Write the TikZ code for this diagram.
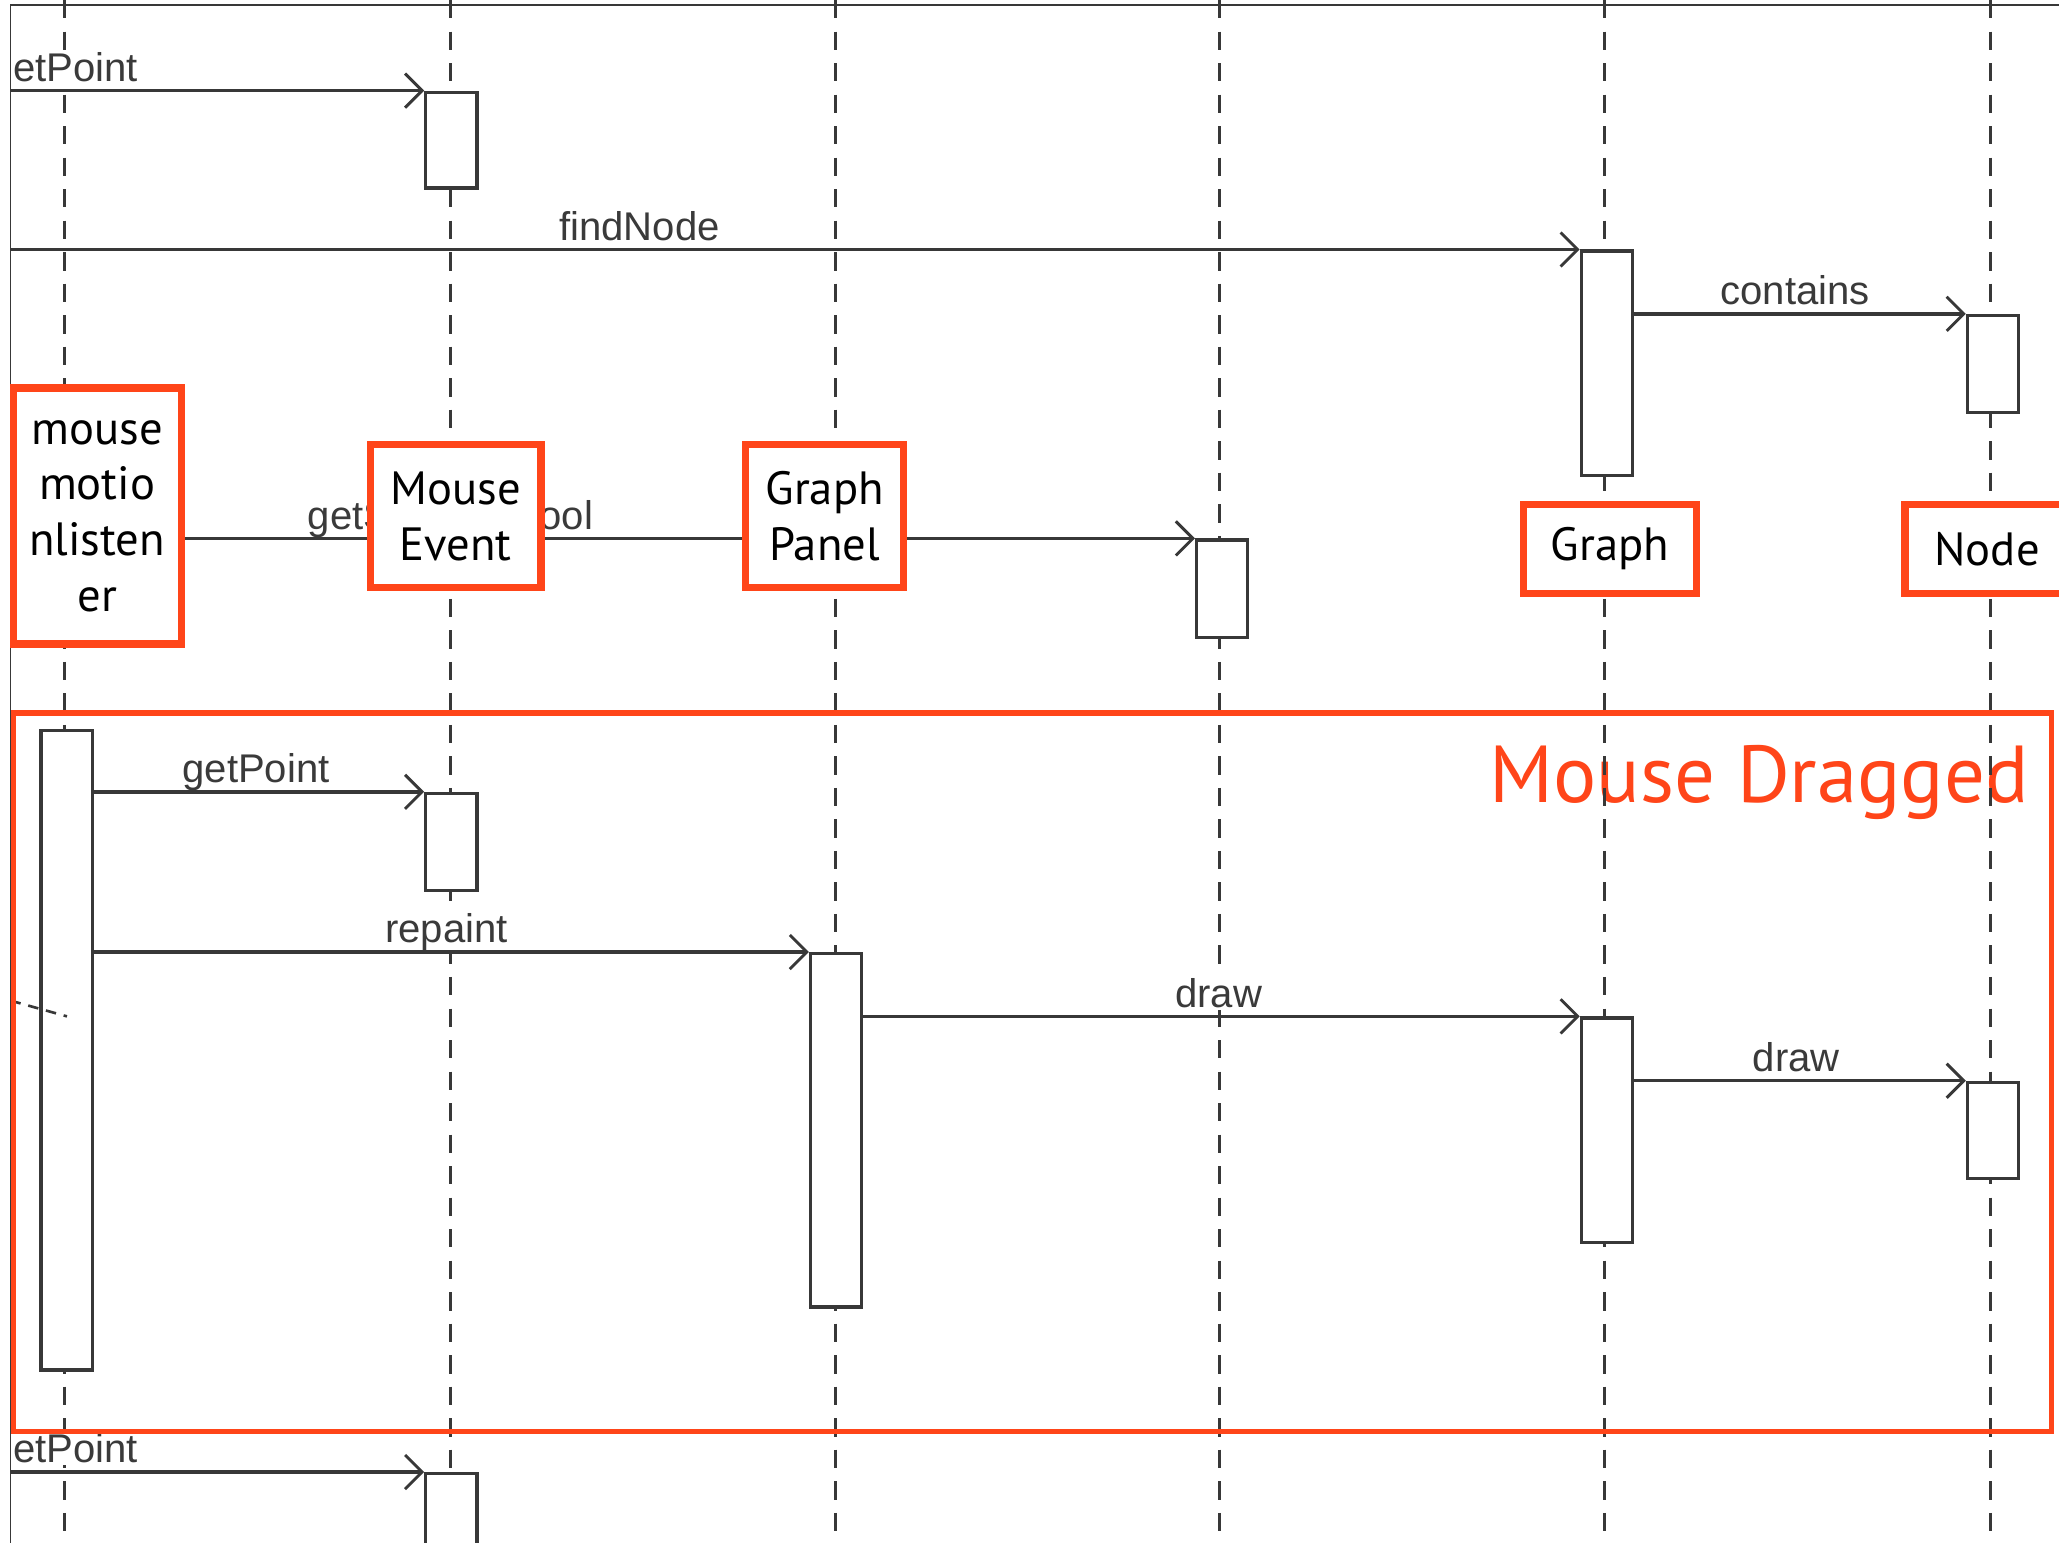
\documentclass[tikz,border=0pt]{standalone}
\usepackage{fontspec}
\setmainfont{Liberation Sans}
\newfontfamily\gill{PT Sans}
\usetikzlibrary{arrows.meta}
\definecolor{uml}{HTML}{383838}
\definecolor{lblc}{HTML}{3A3A3A}
\definecolor{hred}{HTML}{FF4519}
\begin{document}
\begin{tikzpicture}[x=1pt,y=-1pt,
  life/.style={draw=uml, line width=2.4pt, dash pattern=on 14pt off 10pt},
  act/.style={draw=uml, fill=white, line width=2.5pt, minimum width=39pt, inner sep=0pt, anchor=north west},
  msg/.style={draw=uml, line width=2.6pt, -{Straight Barb[length=13pt,width=26pt,line width=2.2pt]}},
  lbl/.style={text=lblc, fill=white, font=\fontsize{30.5}{34}\selectfont, inner sep=2pt, anchor=base},
  cls/.style={draw=hred, line width=5.5pt, fill=white, font=\gill\fontsize{35.5}{42.5}\selectfont, align=center, inner sep=0pt},
  frameline/.style={draw=uml, line width=1.5pt},
]
\useasboundingbox (0,0) rectangle (1568,1175);
\clip (0,0) rectangle (1568,1175);
\fill[white] (0,0) rectangle (1568,1175);

% title of the red frame
\node[text=hred, font=\gill\fontsize{61.5}{70}\selectfont, anchor=base east, inner sep=0pt] (title) at (1545,611) {Mouse Dragged};

% lifelines
\foreach \x/\n in {49/L1,343/L2,636/L3,929/L4,1222/L5,1516/L6}{
  \coordinate (\n top) at (\x,0);
  \coordinate (\n bot) at (\x,1175);
  \draw[life] (\n top) -- (\n bot);
}

% screenshot border
\coordinate (bTL) at (8,4);
\coordinate (bTR) at (1568,4);
\coordinate (bBL) at (8,1175);
\draw[frameline] (bTR) -- (bTL) -- (bBL);

% free ends of messages
\coordinate (s1) at (8,69);
\coordinate (s2) at (8,190);
\coordinate (s3) at (8,1121);
\coordinate (d1) at (8,762);
\coordinate (d2) at (51,774);

% labels (drawn before the activations and boxes)
\node[lbl, anchor=base west, inner sep=1pt] (tEt1) at (9,62) {etPoint};
\node[lbl] (tFind) at (487,183) {findNode};
\node[lbl] (tCont) at (1367,232) {contains};
\node[lbl] (tTool) at (343,403) {getSelectedTool};
\node[lbl] (tGet) at (195,596) {getPoint};
\node[lbl] (tRep) at (340,718) {repaint};
\node[lbl] (tDr1) at (928,767) {draw};
\node[lbl] (tDr2) at (1368,816) {draw};
\node[lbl, anchor=base west, inner sep=1pt] (tEt2) at (9,1114) {etPoint};

% activations
\node[act, minimum height=73pt] (aTop) at (323,69) {};
\node[act, minimum height=171pt] (aFind) at (1203,190) {};
\node[act, minimum height=74pt] (aCont) at (1497,239) {};
\node[act, minimum height=74pt] (aTool) at (910,410) {};
\node[act, minimum height=487pt] (aL1) at (30,555) {};
\node[act, minimum height=74pt] (aGP) at (323,603) {};
\node[act, minimum height=269pt] (aRep) at (616,725) {};
\node[act, minimum height=171pt] (aDr1) at (1203,774) {};
\node[act, minimum height=73pt] (aDr2) at (1497,823) {};
\node[act, minimum height=90pt] (aBot) at (323,1121) {};

% class box that starts the tool message
\node[cls, minimum width=128pt, minimum height=195pt] (mml) at (74,393) {mouse\\motio\\nlisten\\er};

% messages
\draw[msg] (s1) -- (aTop.north west);
\draw[msg] (s2) -- (aFind.north west);
\draw[msg] (aFind.east |- aCont.north) -- (aCont.north west);
\draw[msg] (mml.east |- aTool.north) -- (aTool.north west);
\draw[msg] (aL1.east |- aGP.north) -- (aGP.north west);
\draw[msg] (aL1.east |- aRep.north) -- (aRep.north west);
\draw[msg] (aRep.east |- aDr1.north) -- (aDr1.north west);
\draw[msg] (aDr1.east |- aDr2.north) -- (aDr2.north west);
\draw[msg] (s3) -- (aBot.north west);
\draw[draw=uml, line width=2pt, dash pattern=on 8pt off 6pt] (d1) -- (d2);

% remaining class boxes (on top of the tool message)
\node[cls, minimum width=130pt, minimum height=109pt] (me) at (347,393) {Mouse\\Event};
\node[cls, minimum width=120pt, minimum height=109pt] (gp) at (628,393) {Graph\\Panel};
\node[cls, minimum width=132pt, minimum height=68pt] (gr) at (1226,418) {Graph};
\node[cls, minimum width=130pt, minimum height=68pt, anchor=west] (nd) at (1448,418) {\hspace*{-5pt}Node};

% red frame
\draw[draw=hred, line width=4pt] (10,543) rectangle (1562,1090);
\end{tikzpicture}
\end{document}
